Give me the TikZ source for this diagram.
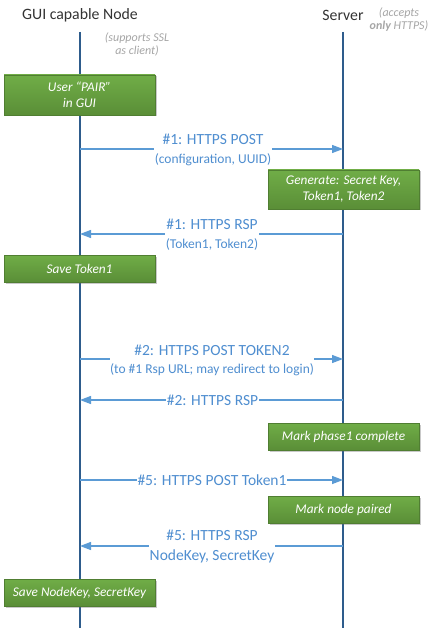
\documentclass[tikz,border=0pt]{standalone}
\usepackage{fontspec}
\setmainfont{Carlito}
\usetikzlibrary{arrows.meta,shadows}
\definecolor{lifeblue}{HTML}{2E5C8C}
\definecolor{msgblue}{HTML}{5B9BD5}
\definecolor{txtblue}{HTML}{4F8ED0}
\definecolor{notegray}{HTML}{A6A6A6}
\definecolor{gtop}{HTML}{70AD47}
\definecolor{gbot}{HTML}{5A8E37}
\definecolor{gborder}{HTML}{507E32}
\newcommand\subtxt{\fontsize{13.5}{15}\selectfont}
\begin{document}
\begin{tikzpicture}[x=1pt,y=-1pt,
  title/.style={font=\fontsize{15.8}{18}\selectfont, text=black!80, inner sep=0pt},
  note/.style={font=\fontsize{12}{12.5}\selectfont\itshape, text=notegray, align=center, inner sep=0pt},
  life/.style={draw=lifeblue, line width=2pt},
  msg/.style={draw=msgblue, line width=1.3pt, -{Triangle[length=11pt,width=8pt]}},
  lbl/.style={fill=white, text=txtblue, align=center, inner xsep=0.5pt, inner ysep=1pt, font=\fontsize{15.5}{21}\selectfont},
  act/.style={draw=gborder, line width=0.6pt, top color=gtop, bottom color=gbot, text=white,
    font=\fontsize{13.3}{16}\selectfont\itshape, align=center, minimum width=151pt, inner sep=0pt,
    drop shadow={shadow xshift=1.5pt, shadow yshift=-1.5pt, opacity=0.35, fill=black!60}},
]
\useasboundingbox (0,0) rectangle (436,628);
\fill[white] (0,0) rectangle (436,628);

% titles and notes
\node[title] (tN) at (80,15) {GUI capable Node};
\node[title] (tS) at (343,15) {Server};
\node[note] (nS) at (399,19.5) {(accepts\\{\bfseries only} HTTPS)};
\node[note] (nN) at (137,44.5) {(supports SSL\\as client)};

% lifelines
\coordinate (Ltop) at (80,32);
\coordinate (Lbot) at (80,628);
\coordinate (Rtop) at (343,32);
\coordinate (Rbot) at (343,628);
\draw[life] (Ltop) -- (Lbot);
\draw[life] (Rtop) -- (Rbot);

% activity boxes
\node[act, minimum height=40pt] (b1) at (79.5,95) {User “PAIR”\\in GUI};
\node[act, minimum height=39pt] (b2) at (343.5,189.5) {Generate: Secret Key,\\Token1, Token2};
\node[act, minimum height=27pt] (b3) at (79.5,268.5) {Save Token1};
\node[act, minimum height=27pt] (b4) at (343.5,436.5) {Mark phase1 complete};
\node[act, minimum height=27pt] (b5) at (343.5,509.5) {Mark node paired};
\node[act, minimum height=27pt] (b6) at (79.5,592.5) {Save NodeKey, SecretKey};

% message anchors
\coordinate (L1) at (80,149);  \coordinate (R1) at (343,149);
\coordinate (L2) at (80,234);  \coordinate (R2) at (343,234);
\coordinate (L3) at (80,359);  \coordinate (R3) at (343,359);
\coordinate (L4) at (80,400);  \coordinate (R4) at (343,400);
\coordinate (L5) at (80,480);  \coordinate (R5) at (343,480);
\coordinate (L6) at (80,546);  \coordinate (R6) at (343,546);

\draw[msg] (L1) -- (R1);
\node[lbl] (m1) at (213,150) {\#1: HTTPS POST\\[-2pt]{\subtxt (configuration, UUID)}};
\draw[msg] (R2) -- (L2);
\node[lbl] (m2) at (212,235) {\#1: HTTPS RSP\\[-2pt]{\subtxt (Token1, Token2)}};
\draw[msg] (L3) -- (R3);
\node[lbl] (m3) at (212,360.5) {\#2: HTTPS POST TOKEN2\\[-3pt]{\subtxt (to \#1 Rsp URL; may redirect to login)}};
\draw[msg] (R4) -- (L4);
\node[lbl] (m4) at (212.5,400) {\#2: HTTPS RSP};
\draw[msg] (L5) -- (R5);
\node[lbl] (m5) at (212,480) {\#5: HTTPS POST Token1};
\draw[msg] (R6) -- (L6);
\node[lbl] (m6) at (212,546.5) {\#5: HTTPS RSP\\[-1pt]NodeKey, SecretKey};
\end{tikzpicture}
\end{document}
